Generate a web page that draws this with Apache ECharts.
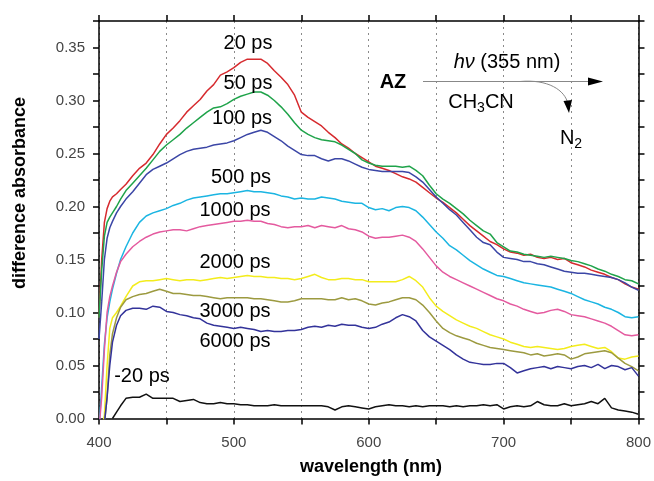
<!DOCTYPE html>
<html>
<head>
<meta charset="utf-8">
<script src="https://cdn.jsdelivr.net/npm/echarts@6/dist/echarts.min.js"></script>
<style>
html,body{margin:0;padding:0;background:#fff;}
#c{width:654px;height:481px;}
</style>
</head>
<body>
<div id="c"></div>
<script>
// wavelength (nm)
const wavelengths = [400,402,404,406,408,410,413,416,420,
 425,430,435,440,445,450,455,460,465,470,
 475,480,485,490,495,500,505,510,515,520,
 525,530,535,540,545,550,555,560,565,570,
 575,580,585,590,595,600,605,610,615,620,
 625,630,635,640,645,650,655,660,665,670,
 675,680,685,690,695,700,705,710,715,720,
 725,730,735,740,745,750,755,760,765,770,
 775,780,785,790,795,800];

const ps20 = [0.095,0.150,0.185,0.198,0.205,0.209,0.212,0.216,0.221,
 0.229,0.236,0.241,0.249,0.259,0.268,0.274,0.281,0.289,0.295,
 0.301,0.309,0.315,0.324,0.327,0.331,0.336,0.339,0.339,0.339,
 0.335,0.328,0.322,0.315,0.305,0.289,0.284,0.280,0.276,0.270,
 0.265,0.259,0.255,0.250,0.246,0.242,0.238,0.236,0.234,0.231,
 0.228,0.226,0.223,0.218,0.213,0.208,0.204,0.199,0.194,0.188,
 0.182,0.177,0.172,0.167,0.164,0.160,0.157,0.156,0.154,0.155,
 0.152,0.151,0.152,0.150,0.151,0.147,0.145,0.143,0.140,0.138,
 0.136,0.133,0.131,0.127,0.124,0.122];

const ps50 = [0.095,0.140,0.172,0.185,0.190,0.194,0.200,0.207,0.215,
 0.222,0.229,0.236,0.244,0.252,0.258,0.263,0.268,0.274,0.279,
 0.284,0.289,0.293,0.294,0.297,0.301,0.304,0.306,0.308,0.308,
 0.305,0.300,0.294,0.287,0.279,0.272,0.268,0.265,0.263,0.262,
 0.261,0.258,0.254,0.250,0.244,0.241,0.239,0.238,0.238,0.238,
 0.237,0.238,0.234,0.229,0.220,0.212,0.207,0.203,0.198,0.193,
 0.187,0.182,0.177,0.174,0.166,0.162,0.158,0.157,0.155,0.154,
 0.153,0.152,0.153,0.152,0.151,0.149,0.148,0.146,0.144,0.141,
 0.139,0.136,0.134,0.131,0.130,0.127];

const ps100 = [0.075,0.110,0.150,0.170,0.180,0.186,0.194,0.200,0.207,
 0.214,0.222,0.230,0.235,0.238,0.241,0.245,0.249,0.252,0.254,
 0.255,0.256,0.258,0.259,0.260,0.262,0.265,0.268,0.270,0.272,
 0.270,0.266,0.262,0.257,0.253,0.249,0.248,0.248,0.245,0.243,
 0.245,0.245,0.243,0.240,0.237,0.235,0.234,0.233,0.233,0.233,
 0.233,0.232,0.228,0.223,0.216,0.209,0.203,0.197,0.192,0.185,
 0.178,0.171,0.166,0.164,0.157,0.152,0.151,0.150,0.148,0.148,
 0.146,0.145,0.143,0.141,0.139,0.138,0.137,0.137,0.136,0.135,
 0.134,0.133,0.131,0.128,0.124,0.121];

const ps500 = [-0.010,0.030,0.070,0.095,0.110,0.122,0.137,0.150,0.162,
 0.175,0.185,0.191,0.194,0.196,0.198,0.201,0.203,0.206,0.208,
 0.209,0.210,0.211,0.212,0.212,0.213,0.214,0.215,0.214,0.214,
 0.213,0.212,0.210,0.209,0.207,0.208,0.207,0.207,0.209,0.208,
 0.207,0.205,0.204,0.203,0.203,0.199,0.197,0.198,0.196,0.199,
 0.200,0.199,0.196,0.190,0.183,0.176,0.170,0.163,0.159,0.154,
 0.149,0.145,0.141,0.138,0.135,0.134,0.132,0.130,0.128,0.127,
 0.126,0.125,0.124,0.122,0.120,0.118,0.115,0.112,0.110,0.108,
 0.105,0.103,0.100,0.096,0.095,0.096];

const ps1000 = [-0.010,0.020,0.065,0.100,0.115,0.125,0.138,0.148,0.155,
 0.162,0.167,0.171,0.174,0.176,0.177,0.178,0.178,0.177,0.179,
 0.181,0.182,0.183,0.184,0.185,0.186,0.186,0.187,0.186,0.186,
 0.184,0.183,0.181,0.180,0.181,0.181,0.182,0.180,0.182,0.181,
 0.180,0.182,0.179,0.178,0.176,0.172,0.170,0.171,0.171,0.172,
 0.173,0.171,0.167,0.160,0.152,0.144,0.138,0.134,0.131,0.128,
 0.125,0.122,0.119,0.116,0.113,0.111,0.108,0.106,0.103,0.101,
 0.099,0.100,0.102,0.103,0.101,0.098,0.097,0.096,0.094,0.092,
 0.090,0.087,0.083,0.079,0.078,0.079];

const ps2000 = [-0.010,-0.010,0.003,0.050,0.085,0.095,0.100,0.106,0.115,
 0.125,0.129,0.130,0.130,0.131,0.132,0.131,0.130,0.131,0.131,
 0.130,0.131,0.132,0.133,0.132,0.133,0.134,0.135,0.134,0.134,
 0.133,0.133,0.132,0.132,0.131,0.132,0.134,0.136,0.133,0.131,
 0.131,0.132,0.132,0.131,0.131,0.129,0.129,0.129,0.129,0.129,
 0.131,0.134,0.130,0.124,0.114,0.106,0.101,0.097,0.093,0.090,
 0.087,0.085,0.082,0.079,0.077,0.075,0.072,0.070,0.068,0.067,
 0.068,0.067,0.066,0.065,0.066,0.068,0.069,0.070,0.068,0.066,
 0.067,0.063,0.057,0.056,0.058,0.059];

const ps3000 = [-0.010,-0.010,-0.005,0.020,0.060,0.080,0.095,0.105,0.112,
 0.115,0.117,0.118,0.120,0.122,0.120,0.118,0.118,0.117,0.116,
 0.116,0.115,0.114,0.113,0.114,0.114,0.114,0.114,0.113,0.113,
 0.112,0.111,0.110,0.110,0.111,0.113,0.113,0.113,0.113,0.112,
 0.112,0.114,0.112,0.113,0.111,0.108,0.107,0.109,0.110,0.112,
 0.114,0.114,0.112,0.107,0.100,0.092,0.085,0.081,0.078,0.076,
 0.074,0.071,0.069,0.067,0.066,0.065,0.064,0.063,0.062,0.060,
 0.061,0.059,0.060,0.061,0.060,0.056,0.058,0.061,0.062,0.063,
 0.064,0.062,0.057,0.052,0.049,0.045];

const ps6000 = [-0.010,-0.010,-0.005,0.020,0.050,0.072,0.088,0.097,0.102,
 0.104,0.104,0.103,0.106,0.105,0.101,0.100,0.098,0.097,0.095,
 0.094,0.090,0.088,0.087,0.086,0.085,0.086,0.085,0.084,0.082,
 0.083,0.082,0.082,0.083,0.083,0.084,0.086,0.087,0.086,0.088,
 0.087,0.089,0.088,0.088,0.086,0.085,0.086,0.089,0.091,0.095,
 0.098,0.096,0.092,0.083,0.077,0.073,0.069,0.065,0.060,0.056,
 0.053,0.052,0.051,0.051,0.052,0.052,0.048,0.043,0.045,0.047,
 0.048,0.049,0.047,0.049,0.048,0.047,0.049,0.050,0.048,0.051,
 0.047,0.050,0.049,0.046,0.048,0.040];

const psMinus20 = [null,null,null,null,null,0.000,0.006,0.012,0.019,
 0.020,0.020,0.023,0.019,0.019,0.019,0.019,0.016,0.017,0.018,
 0.015,0.014,0.014,0.015,0.014,0.014,0.013,0.013,0.012,0.012,
 0.012,0.013,0.012,0.012,0.012,0.012,0.012,0.012,0.012,0.011,
 0.008,0.011,0.012,0.011,0.010,0.009,0.011,0.012,0.013,0.012,
 0.012,0.011,0.012,0.011,0.012,0.012,0.012,0.011,0.012,0.011,
 0.012,0.012,0.013,0.012,0.013,0.009,0.011,0.012,0.011,0.012,
 0.016,0.013,0.012,0.012,0.014,0.012,0.013,0.014,0.016,0.014,
 0.019,0.010,0.008,0.007,0.006,0.004];

const seriesNames = ['20 ps','50 ps','100 ps','500 ps','1000 ps','2000 ps','3000 ps','6000 ps','-20 ps'];
const seriesValues = [ps20, ps50, ps100, ps500, ps1000, ps2000, ps3000, ps6000, psMinus20];
const seriesColors = ['#d62a2e','#1fa34a','#3b46a6','#1bb5e2','#e45a9f','#f3ec1c','#9c9a40','#33339a','#111111'];

const xTicks = [400, 500, 600, 700, 800];
const yTicks = [0.00, 0.05, 0.10, 0.15, 0.20, 0.25, 0.30, 0.35];

const chart = echarts.init(document.getElementById('c'), null, {renderer: 'canvas'});

const FONT = '"Liberation Sans", Arial, Helvetica, sans-serif';
const axisLineStyle = {color: '#000', width: 1.5};

function xLabelFmt(v){ return xTicks.indexOf(Math.round(v)) >= 0 ? String(Math.round(v)) : ''; }
function yLabelFmt(v){
  for (const t of yTicks) { if (Math.abs(v - t) < 1e-6) return t.toFixed(2); }
  return '';
}

const series = seriesNames.map((name, k) => ({
  name: name,
  type: 'line',
  xAxisIndex: 0,
  yAxisIndex: 0,
  showSymbol: false,
  symbol: 'none',
  clip: true,
  connectNulls: false,
  lineStyle: {color: seriesColors[k], width: 1.5},
  itemStyle: {color: seriesColors[k]},
  data: wavelengths.map((w, i) => [w, seriesValues[k][i]]),
  z: 2
}));

const labelStyle = (txt, x, y, extra) => ({
  type: 'text', x: x, y: y, z: 10,
  style: Object.assign({text: txt, fill: '#000', font: '20px ' + FONT, textAlign: 'center', textVerticalAlign: 'middle'}, extra || {})
});

const graphic = [
  labelStyle('20 ps', 248, 43),
  labelStyle('50 ps', 248, 83),
  labelStyle('100 ps', 242, 118),
  labelStyle('500 ps', 241, 177),
  labelStyle('1000 ps', 235, 210),
  labelStyle('2000 ps', 235, 262),
  labelStyle('3000 ps', 235, 311),
  labelStyle('6000 ps', 235, 341),
  labelStyle('-20 ps', 142, 376),
  // reaction scheme
  labelStyle('AZ', 393, 82, {font: 'bold 20px ' + FONT}),
  {type: 'text', x: 507, y: 62, z: 10, style: {
    text: '{i|hν}{n| (355 nm)}', textAlign: 'center', textVerticalAlign: 'middle',
    rich: {i: {fontFamily: FONT, fontSize: 20, fontStyle: 'italic', fill: '#000'},
           n: {fontFamily: FONT, fontSize: 20, fill: '#000'}}
  }},
  {type: 'text', x: 481, y: 102, z: 10, style: {
    text: '{n|CH}{s|3}{n|CN}', textAlign: 'center', textVerticalAlign: 'middle',
    rich: {n: {fontFamily: FONT, fontSize: 20, fill: '#000', lineHeight: 22},
           s: {fontFamily: FONT, fontSize: 14, fill: '#000', lineHeight: 22, padding: [12, 0, 0, 0]}}
  }},
  {type: 'text', x: 571, y: 138, z: 10, style: {
    text: '{n|N}{s|2}', textAlign: 'center', textVerticalAlign: 'middle',
    rich: {n: {fontFamily: FONT, fontSize: 20, fill: '#000', lineHeight: 22},
           s: {fontFamily: FONT, fontSize: 14, fill: '#000', lineHeight: 22, padding: [12, 0, 0, 0]}}
  }},
  {type: 'line', z: 9, shape: {x1: 423, y1: 81.5, x2: 592, y2: 81.5}, style: {stroke: '#888', lineWidth: 1}},
  {type: 'polygon', z: 9, shape: {points: [[588, 77.5], [603, 81.5], [588, 85.5]]}, style: {fill: '#000'}},
  {type: 'bezierCurve', z: 9, shape: {x1: 520, y1: 81.5, cpx1: 548, cpy1: 79, cpx2: 565, cpy2: 90, x2: 568, y2: 104}, style: {stroke: '#888', lineWidth: 1, fill: null}},
  {type: 'polygon', z: 9, shape: {points: [[563.5, 101], [569, 113], [572, 100]]}, style: {fill: '#000'}},
  // axis names
  {type: 'text', x: 371, y: 467, z: 10, style: {text: 'wavelength (nm)', font: 'bold 18px ' + FONT, fill: '#000', textAlign: 'center', textVerticalAlign: 'middle'}},
  {type: 'text', x: 20, y: 193, rotation: Math.PI / 2, z: 10, style: {text: 'difference absorbance', font: 'bold 18px ' + FONT, fill: '#000', textAlign: 'center', textVerticalAlign: 'middle'}}
];

const option = {
  animation: false,
  backgroundColor: '#fff',
  grid: {left: 99, right: 14, top: 21, bottom: 62.5, containLabel: false},
  xAxis: [
    {type: 'value', position: 'bottom', min: 400, max: 800, interval: 50,
     axisLine: {show: true, onZero: false, lineStyle: axisLineStyle},
     axisTick: {show: true, inside: false, length: 6, lineStyle: axisLineStyle},
     axisLabel: {show: true, formatter: xLabelFmt, fontSize: 15, color: '#444', fontFamily: FONT, margin: 17},
     splitLine: {show: true, lineStyle: {color: '#8a8a8a', width: 1, type: [2, 4]}}},
    {type: 'value', position: 'top', min: 400, max: 800, interval: 50,
     axisLine: {show: true, onZero: false, lineStyle: axisLineStyle},
     axisTick: {show: true, inside: false, length: 6, lineStyle: axisLineStyle},
     axisLabel: {show: false}, splitLine: {show: false}}
  ],
  yAxis: [
    {type: 'value', position: 'left', min: 0, max: 0.375, interval: 0.025,
     axisLine: {show: true, onZero: false, lineStyle: axisLineStyle},
     axisTick: {show: true, inside: false, length: 6, lineStyle: axisLineStyle},
     axisLabel: {show: true, formatter: yLabelFmt, fontSize: 15, color: '#444', fontFamily: FONT, margin: 14},
     splitLine: {show: false}},
    {type: 'value', position: 'right', min: 0, max: 0.375, interval: 0.025,
     axisLine: {show: true, onZero: false, lineStyle: axisLineStyle},
     axisTick: {show: true, inside: false, length: 6, lineStyle: axisLineStyle},
     axisLabel: {show: false}, splitLine: {show: false}}
  ],
  series: series,
  graphic: graphic
};

chart.setOption(option);
</script>
</body>
</html>
